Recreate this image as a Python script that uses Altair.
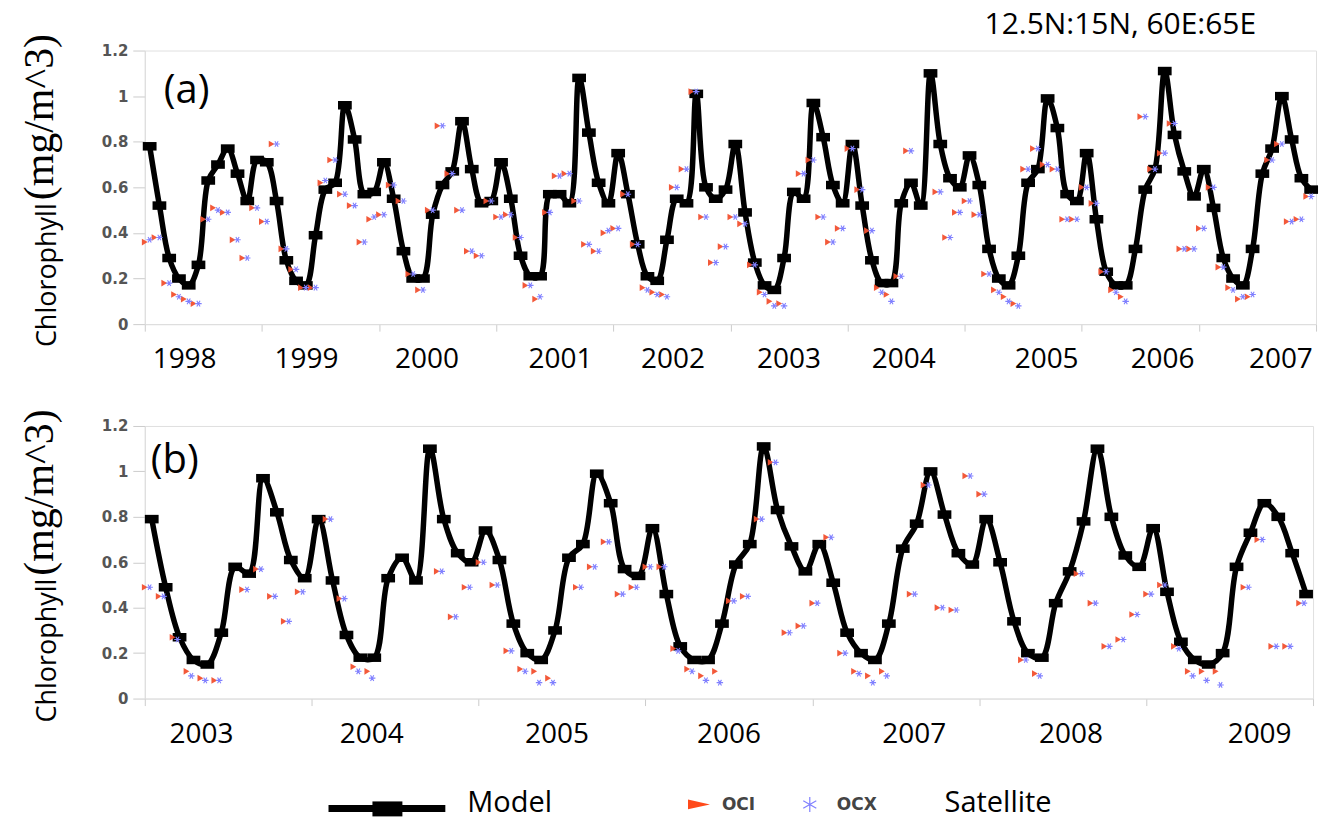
import altair as alt
import pandas as pd

# ---------------- data ----------------
# Model monthly chlorophyll, Jan 1998 .. Dec 2009
model_1998_2009 = [
    0.78, 0.52, 0.29, 0.20, 0.17, 0.26, 0.63, 0.70, 0.77, 0.66, 0.54, 0.72,  # 1998
    0.71, 0.54, 0.28, 0.19, 0.17, 0.39, 0.59, 0.62, 0.96, 0.81, 0.57, 0.58,  # 1999
    0.71, 0.55, 0.32, 0.20, 0.20, 0.48, 0.61, 0.67, 0.89, 0.68, 0.53, 0.54,  # 2000
    0.71, 0.55, 0.30, 0.21, 0.21, 0.57, 0.57, 0.53, 1.08, 0.84, 0.62, 0.53,  # 2001
    0.75, 0.57, 0.35, 0.21, 0.19, 0.37, 0.55, 0.53, 1.01, 0.60, 0.55, 0.59,  # 2002
    0.79, 0.49, 0.27, 0.17, 0.15, 0.29, 0.58, 0.55, 0.97, 0.82, 0.61, 0.53,  # 2003
    0.79, 0.52, 0.28, 0.18, 0.18, 0.53, 0.62, 0.52, 1.10, 0.79, 0.64, 0.60,  # 2004
    0.74, 0.61, 0.33, 0.20, 0.17, 0.30, 0.62, 0.68, 0.99, 0.86, 0.57, 0.54,  # 2005
    0.75, 0.46, 0.23, 0.17, 0.17, 0.33, 0.59, 0.68, 1.11, 0.83, 0.67, 0.56,  # 2006
    0.68, 0.51, 0.29, 0.20, 0.17, 0.33, 0.66, 0.77, 1.00, 0.81, 0.64, 0.59,  # 2007
    0.79, 0.60, 0.34, 0.20, 0.18, 0.42, 0.56, 0.78, 1.10, 0.80, 0.63, 0.58,  # 2008
    0.75, 0.47, 0.25, 0.17, 0.15, 0.20, 0.58, 0.73, 0.86, 0.80, 0.64, 0.46,  # 2009
]

# Panel (a) satellite, Jan 1998 .. Dec 2007 (None = no data)
top_oci = [
    0.36, 0.38, 0.18, 0.13, 0.11, 0.09, 0.46, 0.51, 0.49, 0.37, 0.29, 0.51,
    0.45, 0.79, 0.33, 0.24, 0.16, 0.16, 0.62, 0.72, 0.57, 0.52, 0.36, 0.46,
    0.48, 0.61, 0.54, 0.22, 0.15, 0.50, 0.87, 0.66, 0.50, 0.32, 0.30, 0.54,
    0.47, 0.48, 0.38, 0.17, 0.11, 0.49, 0.65, 0.66, 0.54, 0.35, 0.32, 0.40,
    0.42, 0.57, 0.35, 0.16, 0.14, 0.13, 0.60, 0.68, 1.02, 0.47, 0.27, 0.34,
    0.47, 0.44, 0.26, 0.14, 0.10, 0.09, None, 0.66, 0.72, 0.47, 0.36, 0.42,
    0.77, 0.59, 0.41, 0.16, 0.13, 0.21, 0.76, None, None, 0.58, 0.38, 0.49,
    0.54, 0.48, 0.22, 0.15, 0.12, 0.09, 0.68, 0.77, 0.70, 0.68, 0.46, 0.46,
    0.60, 0.53, 0.23, 0.15, 0.12, None, 0.91, 0.68, 0.75, 0.88, 0.33, 0.33,
    0.42, 0.60, 0.25, 0.16, 0.11, 0.12, None, 0.72, 0.79, 0.45, 0.46, 0.56,
]
top_ocx = [
    0.37, 0.38, 0.18, 0.12, 0.10, 0.09, 0.46, 0.50, 0.49, 0.37, 0.29, 0.51,
    0.45, 0.79, 0.33, 0.24, 0.16, 0.16, 0.63, 0.72, 0.57, 0.52, 0.36, 0.47,
    0.48, 0.61, 0.54, 0.22, 0.15, 0.50, 0.87, 0.66, 0.50, 0.32, 0.30, 0.54,
    0.47, 0.48, 0.38, 0.17, 0.12, 0.49, 0.65, 0.66, 0.54, 0.35, 0.32, 0.41,
    0.42, 0.57, 0.35, 0.15, 0.13, 0.12, 0.60, 0.68, 1.02, 0.47, 0.27, 0.34,
    0.47, 0.44, 0.26, 0.13, 0.08, 0.08, None, 0.66, 0.72, 0.47, 0.36, 0.42,
    0.77, 0.59, 0.41, 0.14, 0.10, 0.21, 0.76, None, None, 0.58, 0.38, 0.49,
    0.54, 0.48, 0.22, 0.14, 0.10, 0.08, 0.68, 0.77, 0.70, 0.68, 0.46, 0.46,
    0.60, 0.53, 0.23, 0.14, 0.10, None, 0.91, 0.68, 0.75, 0.88, 0.33, 0.33,
    0.42, 0.60, 0.25, 0.15, 0.12, 0.13, None, 0.72, 0.79, 0.45, 0.46, 0.56,
]

# Panel (b) satellite, Jan 2003 .. Dec 2009
bot_oci = [
    0.49, 0.45, 0.27, 0.12, 0.09, 0.08, None, 0.48, 0.57, 0.45, 0.34, 0.47,
    None, 0.79, 0.44, 0.14, 0.12, None, None, None, None, 0.56, 0.36, 0.49,
    0.60, 0.50, 0.21, 0.13, 0.12, 0.09, None, 0.49, 0.58, 0.69, 0.46, 0.49,
    0.58, 0.58, 0.22, 0.13, 0.10, 0.12, 0.43, 0.45, 0.79, 1.04, 0.29, 0.32,
    0.42, 0.71, 0.20, 0.12, 0.10, 0.12, None, 0.46, 0.94, 0.40, 0.39, 0.98,
    0.90, None, None, 0.17, 0.11, None, None, 0.55, 0.42, 0.23, 0.26, 0.37,
    0.46, 0.50, 0.23, 0.12, 0.12, 0.12, None, 0.49, 0.70, 0.23, 0.23, 0.42,
]
bot_ocx = [
    0.49, 0.45, 0.26, 0.10, 0.08, 0.08, None, 0.48, 0.57, 0.45, 0.34, 0.47,
    None, 0.79, 0.44, 0.12, 0.09, None, None, None, None, 0.56, 0.36, 0.49,
    0.60, 0.50, 0.21, 0.12, 0.07, 0.07, None, 0.49, 0.58, 0.69, 0.46, 0.49,
    0.58, 0.58, 0.21, 0.12, 0.08, 0.07, 0.43, 0.45, 0.79, 1.04, 0.29, 0.32,
    0.42, 0.71, 0.20, 0.11, 0.07, 0.10, None, 0.46, 0.94, 0.40, 0.39, 0.98,
    0.90, None, None, 0.17, 0.10, None, None, 0.55, 0.42, 0.23, 0.26, 0.37,
    0.46, 0.50, 0.22, 0.10, 0.08, 0.06, None, 0.49, 0.70, 0.23, 0.23, 0.42,
]

# year tick labels and where they sit (decimal years)
top_year_labels = ["1998", "1999", "2000", "2001", "2002", "2003", "2004", "2005", "2006", "2007"]
top_year_pos = [1998.34, 1999.38, 2000.41, 2001.55, 2002.51, 2003.50, 2004.48, 2005.70, 2006.69, 2007.70]
bot_year_labels = ["2003", "2004", "2005", "2006", "2007", "2008", "2009"]
bot_year_pos = [2003.34, 2004.36, 2005.47, 2006.50, 2007.61, 2008.55, 2009.68]

y_ticks = [0, 0.2, 0.4, 0.6, 0.8, 1.0, 1.2]

# ---------------- tables ----------------
def model_table(start, end):
    rows = []
    for year in range(start, end + 1):
        for m in range(12):
            idx = (year - 1998) * 12 + m
            rows.append({"t": year + (m + 0.5) / 12, "v": model_1998_2009[idx]})
    return pd.DataFrame(rows)


def sat_table(start, values):
    rows = []
    for k, v in enumerate(values):
        if v is not None:
            rows.append({"t": start + (k // 12) + (k % 12) / 12, "v": v})
    return pd.DataFrame(rows)


RECT = "M-1,-0.62H1V0.62H-1Z"
STAR_SHIFT = "M0.5,0H2.5M1,-0.87L2,0.87M1,0.87L2,-0.87"
STAR = "M0,-1V1M-0.87,-0.5L0.87,0.5M-0.87,0.5L0.87,-0.5"
WIDE_TRI = "M-1,-0.45L1,0L-1,0.45Z"

OCI_COLOR = "#F2502E"
OCX_COLOR = "#8080FF"
SANS = "Open Sans"


def panel(start, end, w, h, oci, ocx, ylabels, ypos, tag, tag_x, tag_y,
          box_top, box_bottom, extra):
    one = pd.DataFrame({"t": [start]})
    xenc = alt.X("t:Q",
                 scale=alt.Scale(domain=[start, end + 1], nice=False, zero=False),
                 axis=alt.Axis(values=list(range(start, end + 2)), labels=False,
                               tickSize=7, tickColor="#cccccc", domainColor="#dddddd",
                               grid=False, title=None))
    yenc = alt.Y("v:Q",
                 scale=alt.Scale(domain=[0, 1.2], nice=False),
                 axis=alt.Axis(values=y_ticks, format="~g", grid=False, title=None,
                               labelFont="DejaVu Sans", labelFontWeight="bold",
                               labelFontSize=15, labelColor="#555555",
                               tickColor="#cccccc", tickSize=12, labelPadding=5,
                               domainColor="#dddddd"))
    mdf = model_table(start, end)
    frame = alt.Chart(one).mark_rect(opacity=0).encode(
        x=alt.value(-144), x2=alt.value(1193),
        y=alt.value(box_top), y2=alt.value(box_bottom))
    line = alt.Chart(mdf).mark_line(color="black", strokeWidth=5.5,
                                    interpolate="catmull-rom").encode(x=xenc, y=yenc)
    pts = alt.Chart(mdf).mark_point(shape=RECT, filled=True, color="black",
                                    size=190, opacity=1).encode(x=xenc, y=yenc)
    s_oci = alt.Chart(sat_table(start, oci)).mark_point(
        shape="triangle-right", filled=True, color=OCI_COLOR, size=45,
        opacity=0.95).encode(x=xenc, y=yenc)
    s_ocx = alt.Chart(sat_table(start, ocx)).mark_point(
        shape=STAR_SHIFT, filled=False, color=OCX_COLOR, size=42, strokeWidth=1.1,
        opacity=1).encode(x=xenc, y=yenc)
    ldf = pd.DataFrame({"t": ypos, "label": ylabels})
    years = alt.Chart(ldf).mark_text(font=SANS, fontSize=28, align="center",
                                     baseline="alphabetic", color="black").encode(
        x=xenc, y=alt.value(h + 44), text="label:N")
    tag_txt = alt.Chart(one).mark_text(text=tag, font=SANS, fontSize=40, align="left",
                                       baseline="alphabetic", color="black").encode(
        x=alt.value(tag_x), y=alt.value(tag_y))
    yt1 = alt.Chart(one).mark_text(text="Chlorophyll", font=SANS, fontSize=27,
                                   angle=270, align="left", baseline="alphabetic",
                                   color="black").encode(
        x=alt.value(-89), y=alt.value(297))
    yt2 = alt.Chart(one).mark_text(text="(mg/m^3)", font="Liberation Serif",
                                   fontSize=42, angle=270, align="left",
                                   baseline="alphabetic", color="black").encode(
        x=alt.value(-92), y=alt.value(150))
    layers = [frame, line, pts, s_oci, s_ocx, years, tag_txt, yt1, yt2] + extra(one)
    return alt.layer(*layers).properties(width=w, height=h)


def top_extra(one):
    title = alt.Chart(one).mark_text(text="12.5N:15N, 60E:65E", font=SANS, fontSize=30,
                                     align="center", baseline="alphabetic",
                                     color="black").encode(
        x=alt.value(977), y=alt.value(-17))
    return [title]


def bottom_extra(one):
    leg_line = alt.Chart(one).mark_rule(color="black", strokeWidth=7).encode(
        x=alt.value(184), x2=alt.value(301), y=alt.value(383))
    leg_box = alt.Chart(one).mark_rect(color="black").encode(
        x=alt.value(228), x2=alt.value(258), y=alt.value(376), y2=alt.value(391))
    leg_model = alt.Chart(one).mark_text(text="Model", font=SANS, fontSize=29,
                                         align="left", baseline="alphabetic",
                                         color="black").encode(
        x=alt.value(323), y=alt.value(387))
    leg_tri = alt.Chart(one).mark_point(shape=WIDE_TRI, filled=True, color="#FF4A1A",
                                        size=484, opacity=1).encode(
        x=alt.value(555), y=alt.value(379))
    leg_oci = alt.Chart(one).mark_text(text="OCI", font="DejaVu Sans", fontWeight="bold",
                                       fontSize=17, align="left", baseline="middle",
                                       color="#444444").encode(
        x=alt.value(578), y=alt.value(380))
    leg_star = alt.Chart(one).mark_point(shape=STAR, filled=False, color=OCX_COLOR,
                                         size=225, strokeWidth=1.2, opacity=1).encode(
        x=alt.value(666), y=alt.value(379))
    leg_ocx = alt.Chart(one).mark_text(text="OCX", font="DejaVu Sans", fontWeight="bold",
                                       fontSize=17, align="left", baseline="middle",
                                       color="#444444").encode(
        x=alt.value(693), y=alt.value(380))
    leg_sat = alt.Chart(one).mark_text(text="Satellite", font=SANS, fontSize=29,
                                       align="left", baseline="alphabetic",
                                       color="black").encode(
        x=alt.value(801), y=alt.value(387))
    return [leg_line, leg_box, leg_model, leg_tri, leg_oci, leg_star, leg_ocx, leg_sat]


top = panel(1998, 2007, 1173, 274, top_oci, top_ocx, top_year_labels, top_year_pos,
            "(a)", 19, 53, -49, 321, top_extra)
bottom = panel(2003, 2009, 1170, 273, bot_oci, bot_ocx, bot_year_labels, bot_year_pos,
               "(b)", 6, 47, -50, 400, bottom_extra)

chart = alt.vconcat(top, bottom, spacing=0).properties(padding=0).configure_view(
    stroke="#e0e0e0")

chart.save("out.html", embed_options={"renderer": "svg", "actions": False})
